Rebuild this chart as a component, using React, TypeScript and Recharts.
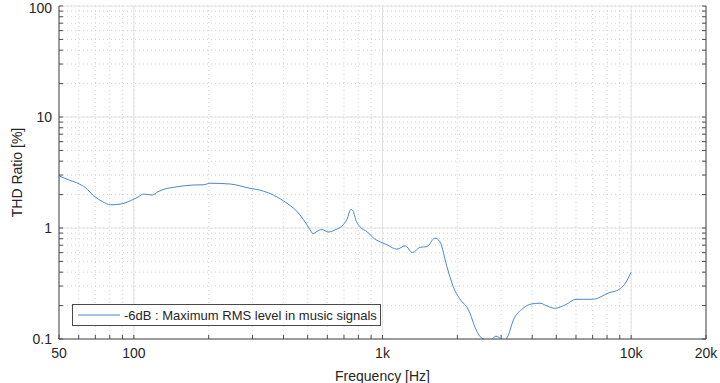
import { CartesianGrid, Label, Legend, Line, LineChart, XAxis, YAxis } from "recharts";

// frequency [Hz] and THD ratio [%]
const freqs = [
  50, 55, 59, 64, 69, 75, 80.5, 88, 98, 104, 109.5, 118.5, 125, 132, 149, 173.5, 190, 203, 244, 293, 322, 364, 413,
  440, 466, 495, 512, 525, 545, 570, 605, 650, 686, 720, 746, 760, 786, 810, 870, 921, 980, 1050, 1141, 1235, 1320,
  1416, 1510, 1623, 1703, 1815, 1926, 2086, 2180, 2250, 2350, 2470, 2546, 2650, 2760, 2860, 2950, 3020, 3100, 3180,
  3360, 3675, 3980, 4300, 4600, 4930, 5480, 6000, 7000, 8150, 8950, 9400, 10000,
];
const thd = [
  2.95, 2.7, 2.55, 2.3, 1.95, 1.72, 1.62, 1.64, 1.78, 1.9, 2.02, 1.98, 2.12, 2.23, 2.35, 2.44, 2.45, 2.53, 2.49, 2.28,
  2.19, 1.98, 1.67, 1.5, 1.31, 1.08, 0.96, 0.89, 0.93, 0.97, 0.92, 0.97, 1.04, 1.2, 1.47, 1.43, 1.14, 1.03, 0.92, 0.81,
  0.75, 0.7, 0.645, 0.69, 0.6, 0.67, 0.68, 0.81, 0.75, 0.45, 0.296, 0.217, 0.195, 0.17, 0.129, 0.105, 0.1, 0.093, 0.1,
  0.106, 0.103, 0.098, 0.098, 0.104, 0.148, 0.189, 0.207, 0.21, 0.198, 0.189, 0.205, 0.228, 0.228, 0.261, 0.28, 0.31,
  0.4,
];

const xTicks = [
  50, 60, 70, 80, 90, 100, 200, 300, 400, 500, 600, 700, 800, 900, 1000, 2000, 3000, 4000, 5000, 6000, 7000, 8000,
  9000, 10000, 20000,
];
const xMajor = [100, 1000, 10000];
const xLabels: Record<number, string> = { 50: "50", 100: "100", 1000: "1k", 10000: "10k", 20000: "20k" };

const yTicks = [
  0.1, 0.2, 0.3, 0.4, 0.5, 0.6, 0.7, 0.8, 0.9, 1, 2, 3, 4, 5, 6, 7, 8, 9, 10, 20, 30, 40, 50, 60, 70, 80, 90, 100,
];
const yMajor = [1, 10];
const yLabels: Record<number, string> = { 0.1: "0.1", 1: "1", 10: "10", 100: "100" };

const seriesName = "-6dB : Maximum RMS level in music signals";

const data = freqs.map((f, i) => ({ f, thd: thd[i] }));

const axisColor = "#4a4a4a";
const textColor = "#262626";
const lineColor = "#4a88c7";

// y tick label, kept inside the page at the top edge
function YTick(props: any) {
  const { x, y, payload } = props;
  const label = yLabels[payload.value] ?? "";
  if (!label) return null;
  return (
    <text x={x} y={Math.max(y, 8)} textAnchor="end" dominantBaseline="central" fill={textColor} fontSize={14}>
      {label}
    </text>
  );
}

function LegendBox() {
  return (
    <div
      style={{
        border: `1px solid ${axisColor}`,
        background: "#fff",
        display: "flex",
        alignItems: "center",
        height: 20,
        padding: "0 3px 0 5px",
        fontSize: 13,
        color: textColor,
        whiteSpace: "nowrap",
      }}
    >
      <svg width={42} height={4} style={{ marginRight: 4 }}>
        <line x1={0} y1={2} x2={42} y2={2} stroke={lineColor} strokeWidth={1} />
      </svg>
      <span>{seriesName}</span>
    </div>
  );
}

export default function App() {
  return (
    <div
      style={{
        position: "absolute",
        left: 0,
        top: 0,
        width: 720,
        height: 383,
        background: "#fff",
        fontFamily: "'Liberation Sans', Arial, Helvetica, sans-serif",
      }}
    >
      <LineChart width={720} height={383} data={data} margin={{ top: 6, right: 0, left: 0, bottom: 0 }}>
        <XAxis
          xAxisId="x"
          dataKey="f"
          type="number"
          scale="log"
          domain={[50, 20000]}
          ticks={xTicks}
          interval={0}
          height={44}
          tickSize={-4}
          tickMargin={13}
          tickFormatter={(v: number) => xLabels[v] ?? ""}
          tick={{ fill: textColor, fontSize: 14 }}
          stroke={axisColor}
          allowDataOverflow
        >
          <Label value="Frequency [Hz]" position="center" dy={15} fill={textColor} fontSize={14} />
        </XAxis>
        <XAxis
          xAxisId="xt"
          orientation="top"
          dataKey="f"
          type="number"
          scale="log"
          domain={[50, 20000]}
          ticks={xTicks}
          interval={0}
          height={0}
          tickSize={-4}
          tickFormatter={() => ""}
          stroke={axisColor}
          allowDataOverflow
        />
        <XAxis xAxisId="xm" dataKey="f" type="number" scale="log" domain={[50, 20000]} ticks={xMajor} hide allowDataOverflow />
        <YAxis
          yAxisId="y"
          type="number"
          scale="log"
          domain={[0.1, 100]}
          ticks={yTicks}
          interval={0}
          width={59}
          tickSize={-4}
          tickMargin={11}
          tick={<YTick />}
          stroke={axisColor}
          allowDataOverflow
        >
          <Label value="THD Ratio [%]" position="center" angle={-90} dx={-12} fill={textColor} fontSize={14} />
        </YAxis>
        <YAxis
          yAxisId="yr"
          orientation="right"
          type="number"
          scale="log"
          domain={[0.1, 100]}
          ticks={yTicks}
          interval={0}
          width={14}
          tickSize={-4}
          tickFormatter={() => ""}
          stroke={axisColor}
          allowDataOverflow
        />
        <YAxis yAxisId="ym" type="number" scale="log" domain={[0.1, 100]} ticks={yMajor} hide allowDataOverflow />
        <CartesianGrid xAxisId="x" yAxisId="y" stroke="#d2d2d2" strokeDasharray="1 3" />
        <CartesianGrid xAxisId="xm" yAxisId="ym" stroke="#e2e2e2" />
        <Legend
          layout="horizontal"
          verticalAlign="middle"
          align="center"
          wrapperStyle={{ left: 72, top: 304, width: "auto" }}
          content={() => <LegendBox />}
        />
        <Line
          xAxisId="x"
          yAxisId="y"
          dataKey="thd"
          name={seriesName}
          type="monotone"
          stroke={lineColor}
          strokeWidth={1}
          dot={false}
          isAnimationActive={false}
        />
      </LineChart>
    </div>
  );
}
